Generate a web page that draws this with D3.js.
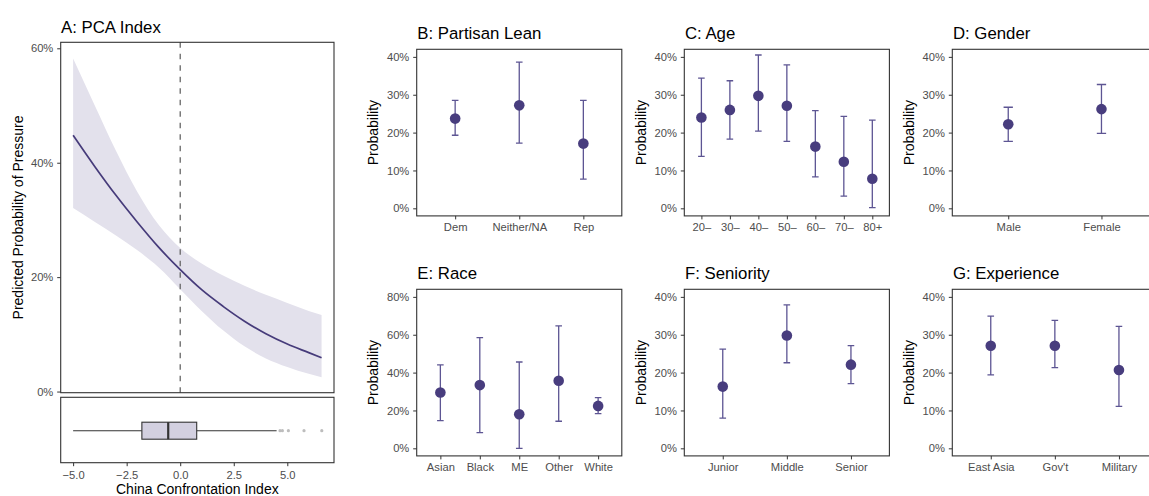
<!DOCTYPE html>
<html>
<head>
<meta charset="utf-8">
<script src="https://cdn.jsdelivr.net/npm/d3@7"></script>
<style>
  body { margin: 0; background: #fff; overflow: hidden; }
  svg { display: block; font-family: "Liberation Sans", Arial, sans-serif; }
  .axis path, .axis line { stroke: #333; }
  .axis text { fill: #4d4d4d; font-size: 11.2px; }
</style>
</head>
<body>
<div id="chart"></div>
<script>
// panel A: fitted curve + ribbon
var pcaX     = [-5, -4, -3, -2, -1, 0, 1, 2, 3, 4, 5, 6, 6.6];
var pcaFit   = [0.448, 0.394, 0.343, 0.296, 0.252, 0.213, 0.178, 0.149, 0.123, 0.101, 0.083, 0.068, 0.059];
var pcaUpper = [0.582, 0.501, 0.421, 0.349, 0.291, 0.251, 0.224, 0.203, 0.185, 0.169, 0.155, 0.141, 0.134];
var pcaLower = [0.321, 0.297, 0.273, 0.247, 0.217, 0.179, 0.141, 0.107, 0.079, 0.058, 0.043, 0.031, 0.025];
var pcaXTicks = [-5, -2.5, 0, 2.5, 5];
var pcaYTicks = [0, 0.2, 0.4, 0.6];

// boxplot of the index: min, q1, median, q3, upper whisker
var boxFive = [-5.0, -1.79, -0.56, 0.77, 4.50];
var boxOutliers = [4.66, 4.77, 5.05, 5.78, 6.61];

// panels B-G
var partyCats = ["Dem", "Neither/NA", "Rep"];
var partyEst  = [0.237, 0.272, 0.171];
var partyLo   = [0.193, 0.172, 0.077];
var partyHi   = [0.285, 0.386, 0.285];

var ageCats = ["20–", "30–", "40–", "50–", "60–", "70–", "80+"];
var ageEst  = [0.240, 0.260, 0.297, 0.271, 0.163, 0.123, 0.078];
var ageLo   = [0.137, 0.183, 0.204, 0.177, 0.083, 0.032, 0.002];
var ageHi   = [0.344, 0.337, 0.405, 0.379, 0.258, 0.243, 0.233];

var genderCats = ["Male", "Female"];
var genderEst  = [0.222, 0.262];
var genderLo   = [0.177, 0.198];
var genderHi   = [0.267, 0.327];

var raceCats = ["Asian", "Black", "ME", "Other", "White"];
var raceEst  = [0.295, 0.334, 0.180, 0.357, 0.224];
var raceLo   = [0.146, 0.083, 0.000, 0.143, 0.183];
var raceHi   = [0.441, 0.585, 0.456, 0.647, 0.268];

var seniorCats = ["Junior", "Middle", "Senior"];
var seniorEst  = [0.163, 0.298, 0.221];
var seniorLo   = [0.080, 0.226, 0.171];
var seniorHi   = [0.262, 0.379, 0.271];

var expCats = ["East Asia", "Gov't", "Military"];
var expEst  = [0.271, 0.271, 0.207];
var expLo   = [0.194, 0.213, 0.111];
var expHi   = [0.349, 0.338, 0.322];

var ticks40 = [0, 0.1, 0.2, 0.3, 0.4];
var ticks80 = [0, 0.2, 0.4, 0.6, 0.8];

var purple = "#483d7e",
    barColor = "#5d5593",
    pct = d3.format(".0%");

var svg = d3.select("#chart").append("svg")
    .attr("width", 1149)
    .attr("height", 496);

function title(x, y, txt) {
  svg.append("text")
      .attr("x", x)
      .attr("y", y)
      .attr("fill", "#000")
      .style("font-size", "16.8px")
      .text(txt);
}

function yTitle(x, yc, txt) {
  svg.append("text")
      .attr("transform", "translate(" + x + "," + yc + ") rotate(-90)")
      .attr("text-anchor", "middle")
      .attr("fill", "#000")
      .style("font-size", "14px")
      .text(txt);
}

function border(x0, y0, x1, y1) {
  svg.append("rect")
      .attr("x", x0).attr("y", y0)
      .attr("width", x1 - x0).attr("height", y1 - y0)
      .attr("fill", "none")
      .attr("stroke", "#333")
      .attr("stroke-width", 1.1);
}

// ---- panel A ----
function panelA() {
  var left = 60.7, right = 334, top = 42.3, bottom = 392.7,
      boxTop = 397.3, boxBottom = 462.7;

  var x = d3.scaleLinear().domain([-5.58, 7.18]).range([left, right]),
      y = d3.scaleLinear().domain([-0.002, 0.6105]).range([bottom, top]);

  var pts = pcaX.map(function(d, i) {
    return {x: d, fit: pcaFit[i], lo: pcaLower[i], hi: pcaUpper[i]};
  });

  var area = d3.area()
      .curve(d3.curveMonotoneX)
      .x(function(d) { return x(d.x); })
      .y0(function(d) { return y(d.lo); })
      .y1(function(d) { return y(d.hi); });

  var line = d3.line()
      .curve(d3.curveMonotoneX)
      .x(function(d) { return x(d.x); })
      .y(function(d) { return y(d.fit); });

  svg.append("path")
      .attr("d", area(pts))
      .attr("fill", "#e3e1ec");

  svg.append("line")
      .attr("x1", x(0)).attr("x2", x(0))
      .attr("y1", top).attr("y2", bottom)
      .attr("stroke", "#666")
      .attr("stroke-width", 1.3)
      .attr("stroke-dasharray", "5.5,6");

  svg.append("path")
      .attr("d", line(pts))
      .attr("fill", "none")
      .attr("stroke", "#463b7a")
      .attr("stroke-width", 1.7);

  svg.append("g")
      .attr("class", "axis")
      .attr("transform", "translate(" + left + ",0)")
      .call(d3.axisLeft(y).tickValues(pcaYTicks).tickFormat(pct).tickSize(3.5).tickPadding(3.9))
      .call(function(g) { g.select(".domain").remove(); });

  border(left, top, right, bottom);

  // boxplot strip
  var bc = 430.7, bh = 8.5;
  var bg = svg.append("g");
  bg.append("line")
      .attr("x1", x(boxFive[0])).attr("x2", x(boxFive[1]))
      .attr("y1", bc).attr("y2", bc)
      .attr("stroke", "#333").attr("stroke-width", 1.1);
  bg.append("line")
      .attr("x1", x(boxFive[3])).attr("x2", x(boxFive[4]))
      .attr("y1", bc).attr("y2", bc)
      .attr("stroke", "#333").attr("stroke-width", 1.1);
  bg.append("rect")
      .attr("x", x(boxFive[1])).attr("y", bc - bh)
      .attr("width", x(boxFive[3]) - x(boxFive[1])).attr("height", 2 * bh)
      .attr("fill", "#d3d0e0")
      .attr("stroke", "#333").attr("stroke-width", 1.1);
  bg.append("line")
      .attr("x1", x(boxFive[2])).attr("x2", x(boxFive[2]))
      .attr("y1", bc - bh).attr("y2", bc + bh)
      .attr("stroke", "#333").attr("stroke-width", 2.2);
  bg.selectAll(".out")
    .data(boxOutliers)
    .enter().append("circle")
      .attr("class", "out")
      .attr("cx", function(d) { return x(d); })
      .attr("cy", bc)
      .attr("r", 1.6)
      .attr("fill", "#bdbdbd");

  svg.append("g")
      .attr("class", "axis")
      .attr("transform", "translate(0," + boxBottom + ")")
      .call(d3.axisBottom(x).tickValues(pcaXTicks)
        .tickFormat(function(d) { return d3.format(".1f")(d).replace("-", "\u2212"); })
        .tickSize(3.5).tickPadding(4.5))
      .call(function(g) { g.select(".domain").remove(); });

  border(left, boxTop, right, boxBottom);

  title(left + 0.3, 32.7, "A: PCA Index");
  yTitle(22.7, (top + bottom) / 2, "Predicted Probability of Pressure");
  svg.append("text")
      .attr("x", (left + right) / 2)
      .attr("y", 493.5)
      .attr("text-anchor", "middle")
      .attr("fill", "#000")
      .style("font-size", "14px")
      .text("China Confrontation Index");
}

// ---- dot + error bar panels ----
function dotPanel(opt) {
  var left = opt.left, top = opt.top, width = 205.1, height = 166.6,
      right = left + width, bottom = top + height;

  var x = d3.scalePoint().domain(opt.cats).range([left, right]).padding(0.6),
      y = d3.scaleLinear().domain(opt.domain).range([bottom, top]);

  var cap = Math.max(3.3, x.step() * 0.05);

  var rows = opt.cats.map(function(c, i) {
    return {cat: c, est: opt.est[i], lo: opt.lo[i], hi: opt.hi[i]};
  });

  svg.append("g")
      .attr("class", "axis")
      .attr("transform", "translate(" + left + ",0)")
      .call(d3.axisLeft(y).tickValues(opt.ticks).tickFormat(pct).tickSize(3.5).tickPadding(3.9))
      .call(function(g) { g.select(".domain").remove(); });

  svg.append("g")
      .attr("class", "axis")
      .attr("transform", "translate(0," + bottom + ")")
      .call(d3.axisBottom(x).tickSize(3.5).tickPadding(3.5))
      .call(function(g) { g.select(".domain").remove(); });

  var item = svg.selectAll(null)
    .data(rows)
    .enter().append("g");

  item.append("path")
      .attr("d", function(d) {
        var cx = x(d.cat), y0 = y(d.lo), y1 = y(d.hi);
        return "M" + (cx - cap) + "," + y1 + "H" + (cx + cap) +
               "M" + cx + "," + y1 + "V" + y0 +
               "M" + (cx - cap) + "," + y0 + "H" + (cx + cap);
      })
      .attr("fill", "none")
      .attr("stroke", barColor)
      .attr("stroke-width", 1.3);

  item.append("circle")
      .attr("cx", function(d) { return x(d.cat); })
      .attr("cy", function(d) { return y(d.est); })
      .attr("r", 5.3)
      .attr("fill", purple);

  border(left, top, right, bottom);

  title(left + 0.6, top - 10, opt.title);
  yTitle(left - 38.3, (top + bottom) / 2, "Probability");
}

panelA();

dotPanel({left: 416.7, top: 49.3, cats: partyCats, est: partyEst, lo: partyLo, hi: partyHi,
  domain: [-0.02, 0.42], ticks: ticks40, title: "B: Partisan Lean"});
dotPanel({left: 684.3, top: 49.3, cats: ageCats, est: ageEst, lo: ageLo, hi: ageHi,
  domain: [-0.02, 0.42], ticks: ticks40, title: "C: Age"});
dotPanel({left: 952.3, top: 49.3, cats: genderCats, est: genderEst, lo: genderLo, hi: genderHi,
  domain: [-0.02, 0.42], ticks: ticks40, title: "D: Gender"});
dotPanel({left: 416.7, top: 289.3, cats: raceCats, est: raceEst, lo: raceLo, hi: raceHi,
  domain: [-0.04, 0.84], ticks: ticks80, title: "E: Race"});
dotPanel({left: 684.3, top: 289.3, cats: seniorCats, est: seniorEst, lo: seniorLo, hi: seniorHi,
  domain: [-0.02, 0.42], ticks: ticks40, title: "F: Seniority"});
dotPanel({left: 952.3, top: 289.3, cats: expCats, est: expEst, lo: expLo, hi: expHi,
  domain: [-0.02, 0.42], ticks: ticks40, title: "G: Experience"});
</script>
</body>
</html>
